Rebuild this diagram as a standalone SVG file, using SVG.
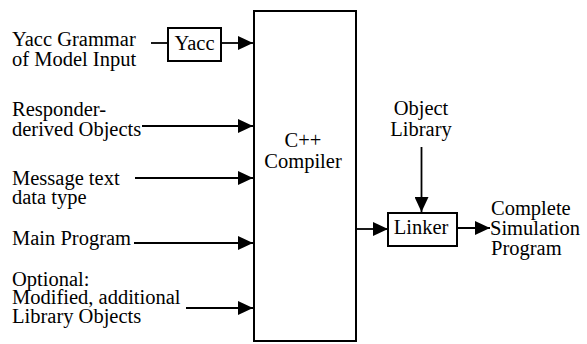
<svg xmlns="http://www.w3.org/2000/svg" width="587" height="344" viewBox="0 0 587 344">
<style>
.t{font-family:'Liberation Serif','Times New Roman',Tinos,serif;font-size:20.5px;fill:#000}
.c{text-anchor:middle}
.box{fill:#fff;stroke:#000;stroke-width:2}
.ln{stroke:#000;stroke-width:1.8;fill:none}
</style>
<defs>
<marker id="ah" markerUnits="userSpaceOnUse" markerWidth="16" markerHeight="14" refX="15" refY="7" orient="auto">
<path d="M0,0 L15,7 L0,14 Z" fill="#000"/>
</marker>
</defs>
<rect width="587" height="344" fill="#fff"/>
<g id="connectors">
<line class="ln" x1="151" y1="43" x2="168" y2="43"/>
<line class="ln" x1="221" y1="43" x2="253" y2="43" marker-end="url(#ah)"/>
<line class="ln" x1="142" y1="126" x2="253" y2="126" marker-end="url(#ah)"/>
<line class="ln" x1="135" y1="178" x2="253" y2="178" marker-end="url(#ah)"/>
<line class="ln" x1="134" y1="243" x2="253" y2="243" marker-end="url(#ah)"/>
<line class="ln" x1="186" y1="308" x2="253" y2="308" marker-end="url(#ah)"/>
<line class="ln" x1="356" y1="229" x2="388" y2="229" marker-end="url(#ah)"/>
<line class="ln" x1="421.5" y1="147" x2="421.5" y2="212" marker-end="url(#ah)"/>
<line class="ln" x1="457" y1="228" x2="490" y2="228" marker-end="url(#ah)"/>
</g>
<g id="yacc-grammar">
<text class="t" font-family="Liberation Serif" x="12" y="46">Yacc Grammar</text>
<text class="t" font-family="Liberation Serif" x="12" y="66">of Model Input</text>
</g>
<g id="yacc">
<rect class="box" x="168" y="28" width="53" height="33"/>
<text class="t c" font-family="Liberation Serif" x="194.5" y="50">Yacc</text>
</g>
<g id="responder">
<text class="t" font-family="Liberation Serif" x="12" y="116">Responder-</text>
<text class="t" font-family="Liberation Serif" x="12" y="136">derived Objects</text>
</g>
<g id="message">
<text class="t" font-family="Liberation Serif" x="12" y="185">Message text</text>
<text class="t" font-family="Liberation Serif" x="12" y="204">data type</text>
</g>
<g id="main-program">
<text class="t" font-family="Liberation Serif" x="12" y="245">Main Program</text>
</g>
<g id="optional">
<text class="t" font-family="Liberation Serif" x="12" y="286">Optional:</text>
<text class="t" font-family="Liberation Serif" x="12" y="304">Modified, additional</text>
<text class="t" font-family="Liberation Serif" x="12" y="323">Library Objects</text>
</g>
<g id="compiler">
<rect class="box" x="254" y="11" width="102" height="330"/>
<text class="t c" font-family="Liberation Serif" x="303" y="147">C++</text>
<text class="t c" font-family="Liberation Serif" x="303" y="168">Compiler</text>
</g>
<g id="object-library">
<text class="t c" font-family="Liberation Serif" x="421" y="115">Object</text>
<text class="t c" font-family="Liberation Serif" x="421" y="136">Library</text>
</g>
<g id="linker">
<rect class="box" x="388" y="213" width="69" height="33"/>
<text class="t c" font-family="Liberation Serif" x="421" y="234">Linker</text>
</g>
<g id="complete">
<text class="t" font-family="Liberation Serif" x="491" y="215">Complete</text>
<text class="t" font-family="Liberation Serif" x="490" y="235">Simulation</text>
<text class="t" font-family="Liberation Serif" x="491" y="255">Program</text>
</g>
</svg>
